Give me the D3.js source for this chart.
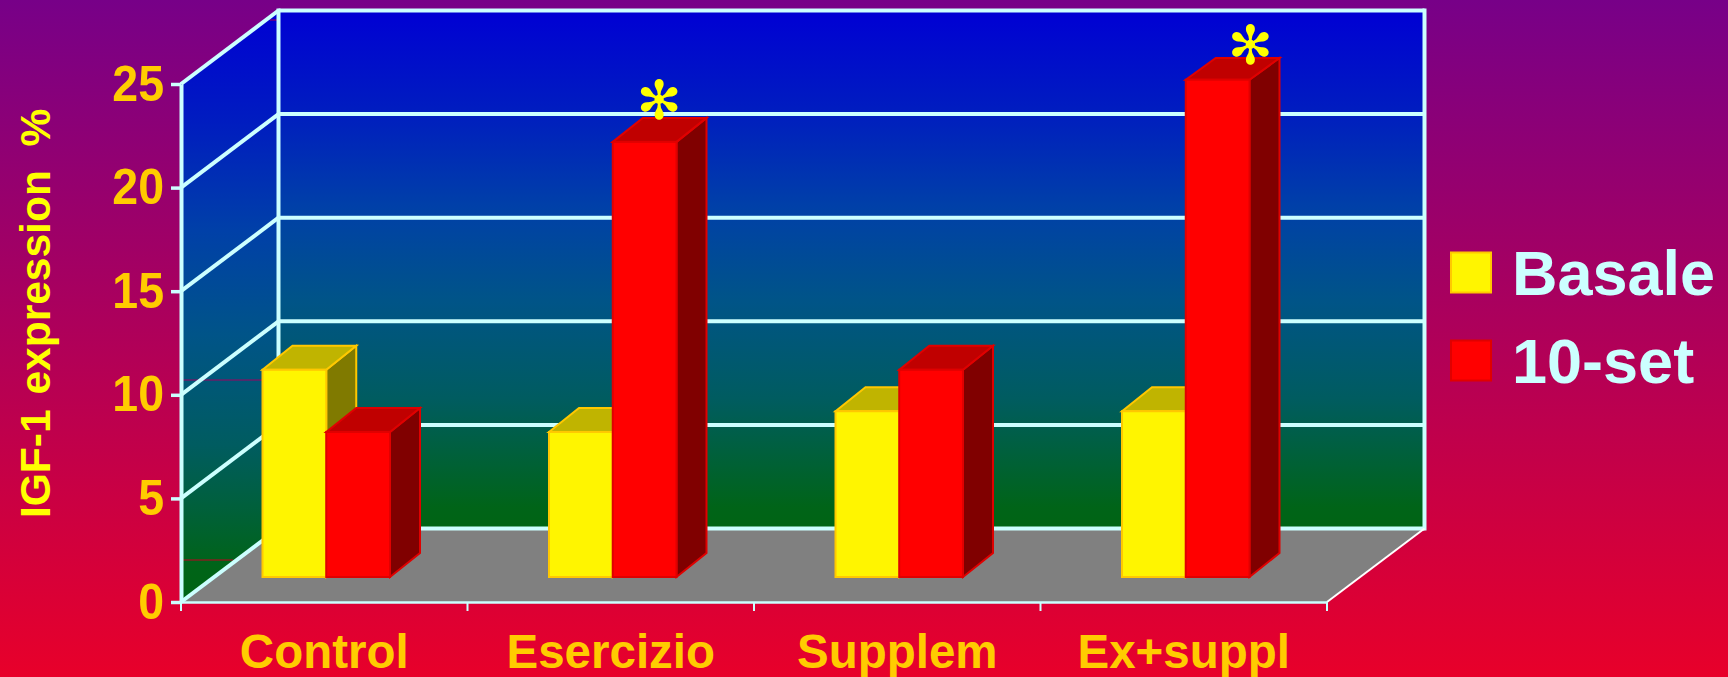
<!DOCTYPE html>
<html><head><meta charset="utf-8">
<script src="https://cdnjs.cloudflare.com/ajax/libs/d3/7.8.5/d3.min.js"></script>
<style>html,body{margin:0;padding:0;overflow:hidden}svg{display:block}text{font-family:"Liberation Sans",Arial,sans-serif;font-weight:bold}</style>
</head><body><script>
const categories = ["Control","Esercizio","Supplem","Ex+suppl"];
const seriesNames = ["Basale","10-set"];
const basale = [10,7,8,8];
const set10 = [7,21,10,24];
const yTicks = [0,5,10,15,20,25];
const starred = ["Esercizio","Ex+suppl"];

const W=1728,H=677, line="#ccffff";
const svg=d3.select("body").append("svg").attr("width",W).attr("height",H);
const defs=svg.append("defs");
function grad(id,stops,y1,y2){
  const g=defs.append("linearGradient").attr("id",id).attr("gradientUnits","userSpaceOnUse")
    .attr("x1",0).attr("x2",0).attr("y1",y1).attr("y2",y2);
  stops.forEach(s=>g.append("stop").attr("offset",s[0]).attr("stop-color",s[1]));
}
const wallStops=[[0,"#0000d4"],[.19,"#001cc0"],[.38,"#0040a8"],[.56,"#005488"],[.75,"#005c60"],[.96,"#006418"],[1,"#006414"]];
grad("bg",[[0,"#770088"],[1,"#e8002a"]],0,H);
grad("wall",wallStops,10,528);
grad("side",wallStops,10,590);
svg.append("rect").attr("width",W).attr("height",H).attr("fill","url(#bg)");

const y=d3.scaleLinear().domain([0,25]).range([602,84]);
const x=d3.scaleBand().domain(categories).range([181,1327]);
const xs=d3.scaleBand().domain(seriesNames).range([81.5,209]);
const depth={x:97.5,y:-73.5};
const barFront={y:-25};
const barDepth={x:30,y:-24};
const barCeiling=58;
const L=181,R=1327,B=y(0),T=y(25);
const poly=a=>a.map(p=>p.join(",")).join(" ");

svg.append("polygon").attr("points",poly([[L,T],[L+depth.x,T+depth.y],[L+depth.x,B+depth.y],[L,B]])).attr("fill","url(#side)");
svg.append("rect").attr("x",L+depth.x).attr("y",T+depth.y).attr("width",R-L).attr("height",B-T).attr("fill","url(#wall)");
svg.append("polygon").attr("points",poly([[L,B],[L+depth.x,B+depth.y],[R+depth.x,B+depth.y],[R,B]])).attr("fill","#808080");

[[181,262,380,"#a00060"],[181,233,560,"#c00020"],[270,278,20,"#b00050"]].forEach(d=>
  svg.append("line").attr("x1",d[0]).attr("x2",d[1]).attr("y1",d[2]).attr("y2",d[2]).attr("stroke",d[3]).attr("stroke-width",1));

yTicks.filter(t=>t>0).forEach(t=>{
  svg.append("line").attr("x1",L).attr("y1",y(t)).attr("x2",L+depth.x).attr("y2",y(t)+depth.y).attr("stroke",line).attr("stroke-width",4);
  svg.append("line").attr("x1",L+depth.x).attr("y1",y(t)+depth.y).attr("x2",R+depth.x).attr("y2",y(t)+depth.y).attr("stroke",line).attr("stroke-width",4);
});
svg.append("line").attr("x1",L).attr("y1",B).attr("x2",L+depth.x).attr("y2",B+depth.y).attr("stroke",line).attr("stroke-width",4);
svg.append("line").attr("x1",L+depth.x).attr("y1",B+depth.y).attr("x2",R+depth.x).attr("y2",B+depth.y).attr("stroke",line).attr("stroke-width",4);
svg.append("line").attr("x1",L+depth.x).attr("y1",T+depth.y-2).attr("x2",L+depth.x).attr("y2",B+depth.y).attr("stroke",line).attr("stroke-width",4);
svg.append("line").attr("x1",R+depth.x).attr("y1",T+depth.y-2).attr("x2",R+depth.x).attr("y2",B+depth.y+2).attr("stroke",line).attr("stroke-width",4);
svg.append("line").attr("x1",R).attr("y1",B).attr("x2",R+depth.x).attr("y2",B+depth.y).attr("stroke","#fff").attr("stroke-width",2);

const styles={
  "Basale":{front:"#fff500",top:"#c0b400",side:"#807a00",stroke:"#ffc800"},
  "10-set":{front:"#ff0000",top:"#c00000",side:"#800000",stroke:"#e00000"}
};
const rows=[];
categories.forEach((c,i)=>{rows.push({c,s:"Basale",v:basale[i]});rows.push({c,s:"10-set",v:set10[i]});});
svg.append("g").selectAll("g").data(rows).join("g").each(function(d){
  const g=d3.select(this),st=styles[d.s];
  const x0=x(d.c)+xs(d.s),x1=x0+xs.bandwidth();
  const yb=y(0)+barFront.y,yt=y(d.v)+barFront.y;
  const dx=barDepth.x,dy=barDepth.y,yBack=Math.max(yt+dy,barCeiling);
  g.append("polygon").attr("points",poly([[x1,yt],[x1+dx,yBack],[x1+dx,yb+dy],[x1,yb]])).attr("fill",st.side).attr("stroke",st.stroke).attr("stroke-width",2);
  g.append("polygon").attr("points",poly([[x0,yt],[x0+dx,yBack],[x1+dx,yBack],[x1,yt]])).attr("fill",st.top).attr("stroke",st.stroke).attr("stroke-width",2);
  g.append("rect").attr("x",x0).attr("y",yt).attr("width",x1-x0).attr("height",yb-yt).attr("fill",st.front).attr("stroke",st.stroke).attr("stroke-width",2);
});

// significance marks, hand-placed relative to the bar's top right corner in the original
const starNudge={"Esercizio":[-17.5,-41],"Ex+suppl":[0.8,-34]};
const starSize=54;
svg.append("g").selectAll("text").data(rows.filter(d=>d.s==="10-set"&&starred.includes(d.c))).join("text")
  .text("✻").attr("text-anchor","middle")
  .style("font-family","DejaVu Sans").style("font-weight","normal").style("font-size",starSize+"px")
  .attr("fill","#ffff00")
  .attr("x",d=>x(d.c)+xs(d.s)+xs.bandwidth()+starNudge[d.c][0])
  .attr("y",d=>y(d.v)+barFront.y+starNudge[d.c][1]+starSize*0.33);

const yAxis=d3.axisLeft(y).tickValues(yTicks).tickSize(10).tickSizeOuter(0).tickPadding(7);
const ya=svg.append("g").attr("transform",`translate(${L},0)`).call(yAxis);
ya.select(".domain").attr("stroke",line).attr("stroke-width",4);
ya.selectAll(".tick line").attr("stroke",line).attr("stroke-width",3.5);
ya.selectAll("text").attr("fill","#ffcc00").style("font-size","50px").style("font-family","Liberation Sans").style("font-weight","bold")
  .attr("transform","scale(.93,1)").attr("x",-17/.93);

const xa=svg.append("g").attr("transform",`translate(0,${B})`).call(d3.axisBottom(x).tickSize(0).tickPadding(0));
xa.select(".domain").attr("stroke",line).attr("stroke-width",2.5);
xa.selectAll("text").attr("fill","#ffcc00").style("font-size","47.5px").style("font-family","Liberation Sans").style("font-weight","bold").attr("y",65.5).attr("dy",0);
const edges=categories.map(c=>x(c)).concat([R]);
svg.append("g").selectAll("line").data(edges).join("line").attr("x1",d=>d).attr("x2",d=>d).attr("y1",B).attr("y2",B+9).attr("stroke",line).attr("stroke-width",2);

const title=svg.append("text").style("white-space","pre")
  .attr("transform","translate(49.5,518) rotate(-90)").attr("fill","#ffff00").style("font-size","42.5px");
title.append("tspan").text("IGF-1");
title.append("tspan").attr("dx",3).text(" expression  %");

const legY=d3.scalePoint().domain(seriesNames).range([294.5,383]);
const leg=svg.append("g").selectAll("g").data(seriesNames).join("g");
leg.append("rect").attr("x",1451).attr("y",(d,i)=>i?340.5:252.5).attr("width",40).attr("height",40)
  .attr("fill",d=>styles[d].front).attr("stroke",d=>styles[d].stroke).attr("stroke-width",2);
leg.append("text").text(d=>d).attr("x",1512).attr("y",d=>legY(d)).attr("fill",line).style("font-size","63px");
</script></body></html>
